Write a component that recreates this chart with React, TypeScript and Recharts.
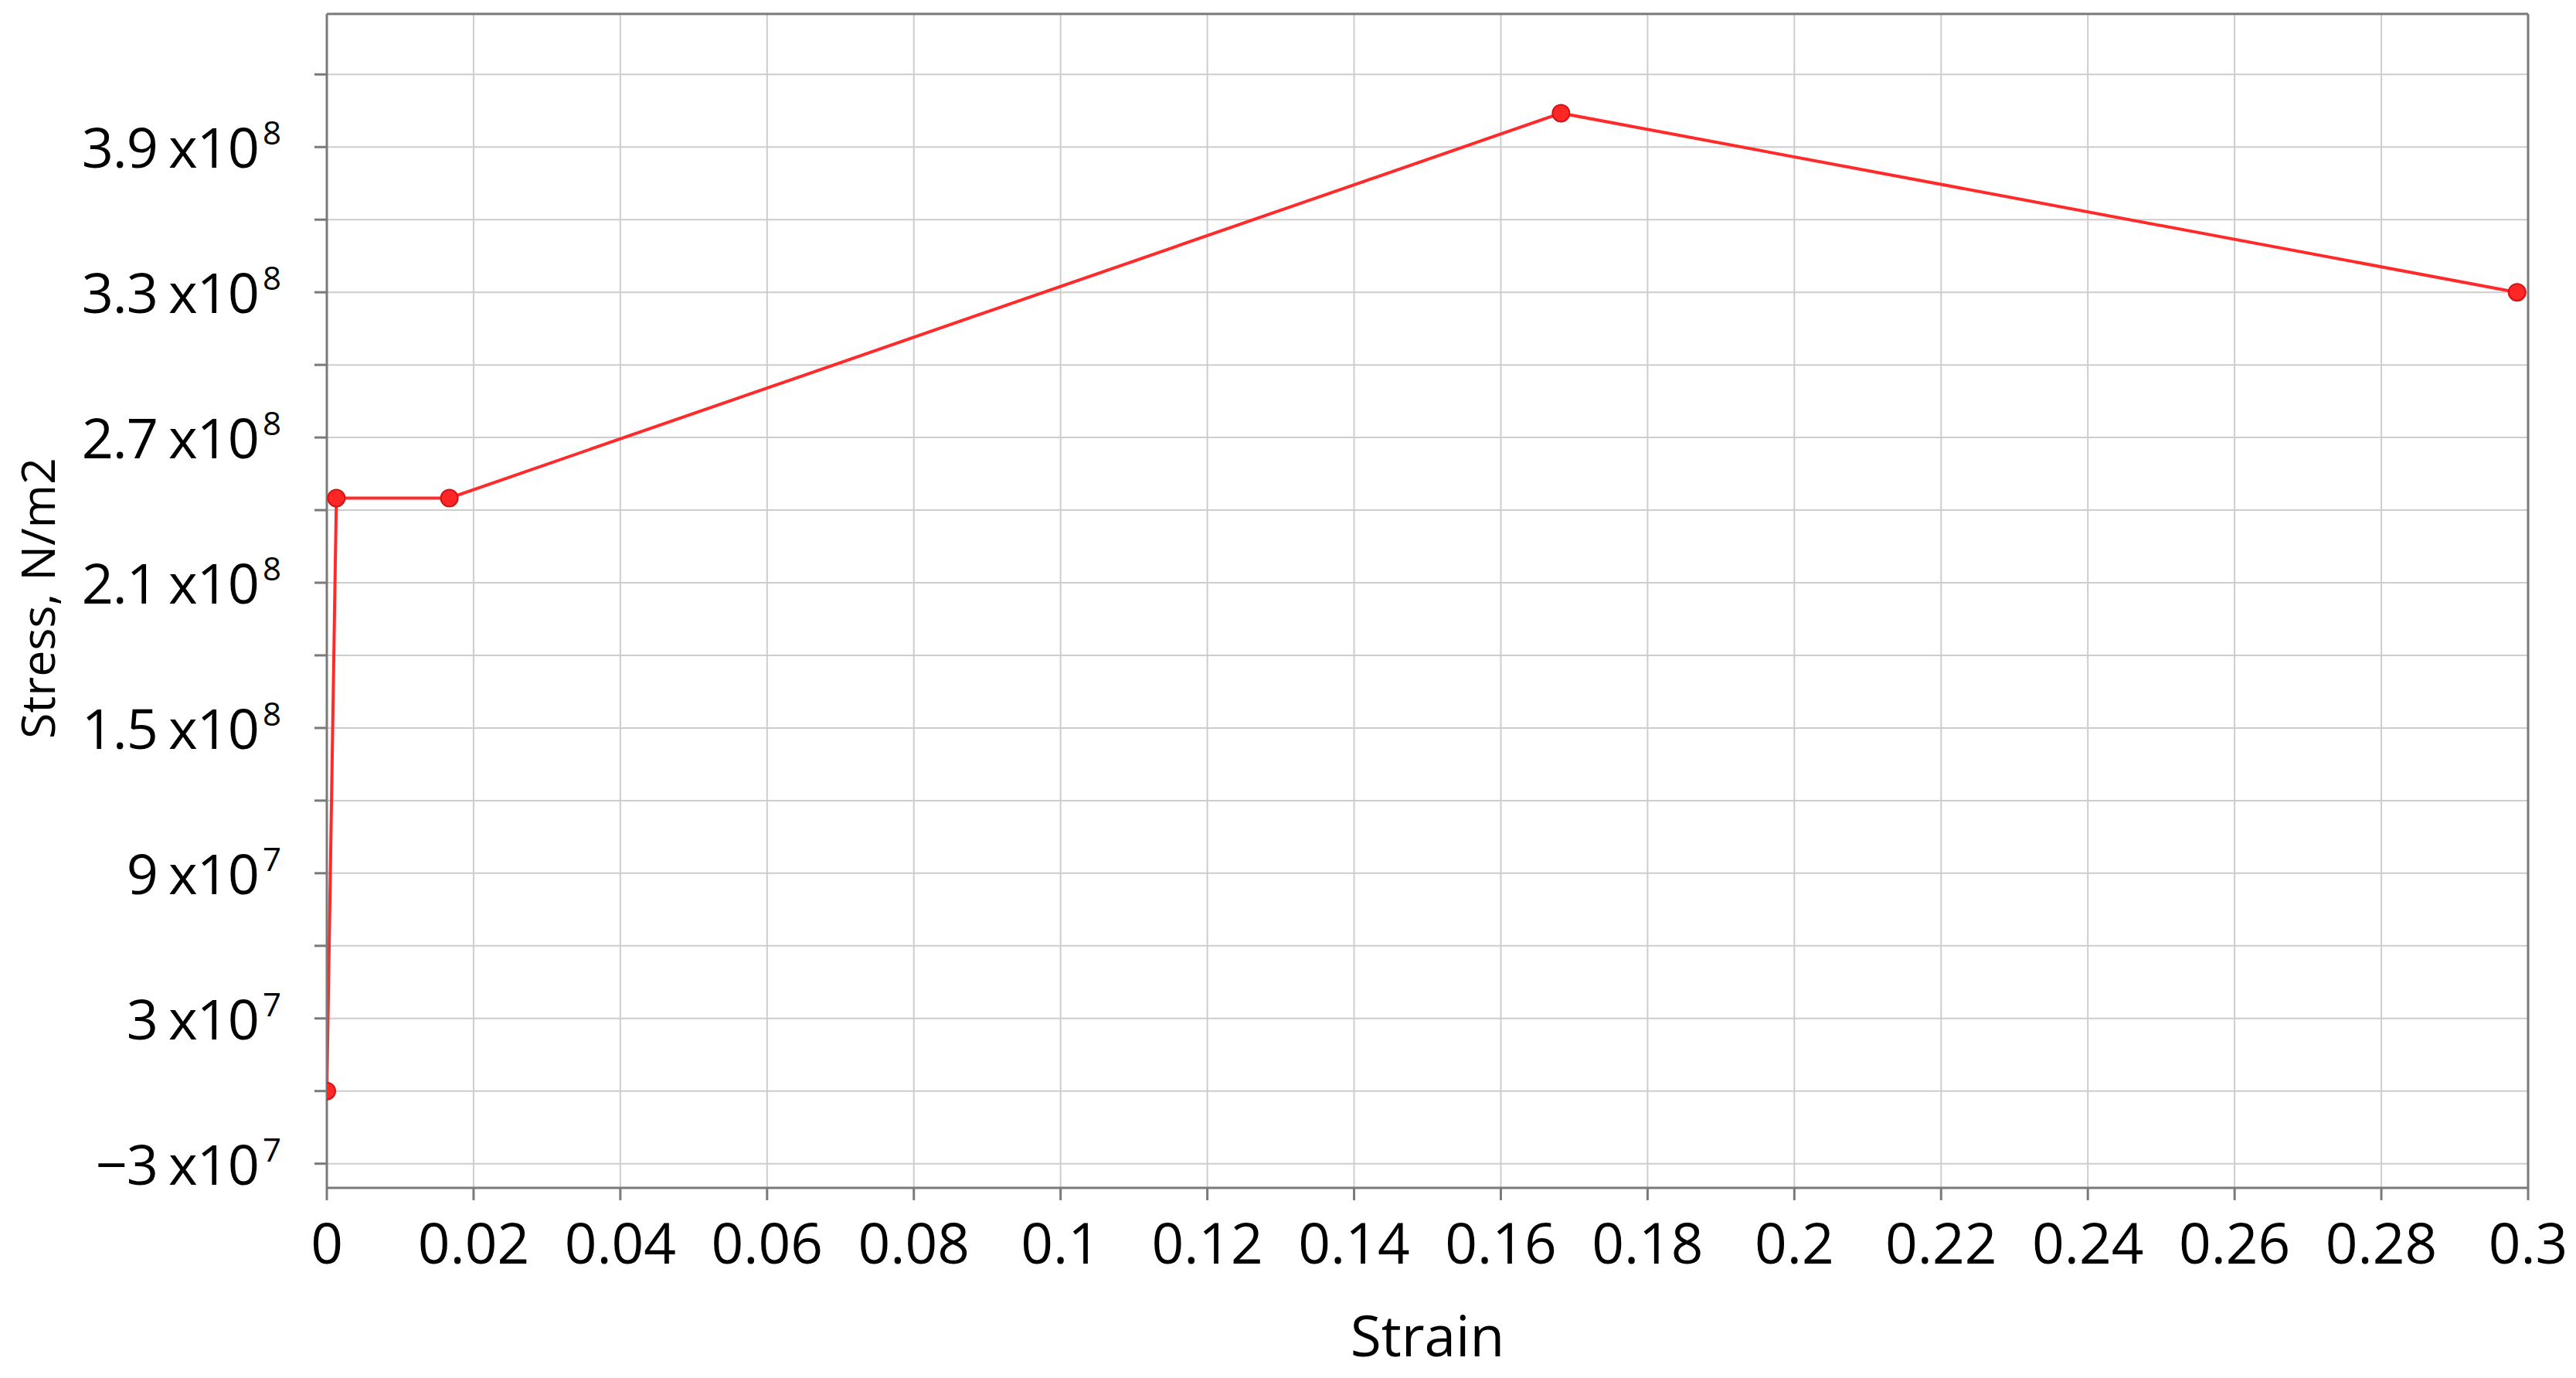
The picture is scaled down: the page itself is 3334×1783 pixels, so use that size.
import React from "react";
import {
  LineChart,
  Line,
  XAxis,
  YAxis,
  CartesianGrid,
  ReferenceLine,
} from "recharts";

// values
const strain = [0, 0.0013, 0.0167, 0.1682, 0.2985];
const stress = [0, 2.45e8, 2.45e8, 4.04e8, 3.3e8];

const xTicks = [
  0, 0.02, 0.04, 0.06, 0.08, 0.1, 0.12, 0.14, 0.16, 0.18, 0.2, 0.22, 0.24,
  0.26, 0.28, 0.3,
];
const yTicks = [
  -3e7, 0, 3e7, 6e7, 9e7, 1.2e8, 1.5e8, 1.8e8, 2.1e8, 2.4e8, 2.7e8, 3e8,
  3.3e8, 3.6e8, 3.9e8, 4.2e8,
];
// only these ticks carry a label
const yLabelled = [-3e7, 3e7, 9e7, 1.5e8, 2.1e8, 2.7e8, 3.3e8, 3.9e8];

const data = strain.map((s, i) => ({ strain: s, stress: stress[i] }));

const FONT = "'Open Sans', 'Noto Sans', sans-serif";
const AXIS = "#7a7a7a";

const fmtX = (v: number) => String(Number(v.toFixed(2)));

const XTick = (props: any) => {
  const { x, y, payload } = props;
  return (
    <text
      x={x}
      y={y + 82}
      textAnchor="middle"
      fontFamily={FONT}
      fontSize={73}
      fill="#000"
    >
      {fmtX(payload.value)}
    </text>
  );
};

const YTick = (props: any) => {
  const { y, payload } = props;
  const v: number = payload.value;
  if (!yLabelled.some((t) => Math.abs(t - v) < 1)) return <g />;
  const exp = Math.floor(Math.log10(Math.abs(v)) + 1e-9);
  const mant = Number((v / Math.pow(10, exp)).toFixed(2));
  const mantStr = (mant < 0 ? "\u2212" : "") + String(Math.abs(mant));
  return (
    <text
      x={363}
      y={y + 27}
      textAnchor="end"
      fontFamily={FONT}
      fontSize={72}
      letterSpacing={-1}
      fill="#000"
    >
      <tspan>{mantStr}</tspan>
      <tspan dx={14}>x10</tspan>
      <tspan dx={5} dy={-30} fontSize={42}>
        {exp}
      </tspan>
    </text>
  );
};

export default function App() {
  return (
    <div style={{ position: "absolute", left: 0, top: 0, background: "#fff" }}>
      <LineChart
        width={3334}
        height={1783}
        data={data}
        margin={{ top: 18, right: 62, bottom: 0, left: 0 }}
      >
        <CartesianGrid stroke="#cdcdcd" strokeWidth={2} />
        <XAxis
          dataKey="strain"
          type="number"
          domain={[0, 0.3]}
          ticks={xTicks}
          allowDataOverflow
          height={246}
          tickSize={16}
          tickMargin={0}
          stroke={AXIS}
          strokeWidth={3}
          tick={(p: any) => <XTick {...p} />}
          label={(p: any) => {
            const vb = p.viewBox;
            return (
              <text
                x={vb.x + vb.width / 2}
                y={1755}
                textAnchor="middle"
                fontFamily={FONT}
                fontSize={73}
                fill="#000"
              >
                Strain
              </text>
            );
          }}
        />
        <YAxis
          dataKey="stress"
          type="number"
          domain={[-4e7, 4.45e8]}
          ticks={yTicks}
          allowDataOverflow
          width={423}
          tickSize={16}
          tickMargin={0}
          stroke={AXIS}
          strokeWidth={3}
          tick={(p: any) => <YTick {...p} />}
          label={() => (
            <text
              x={71}
              y={774}
              transform="rotate(-90, 71, 774)"
              textAnchor="middle"
              fontFamily={FONT}
              fontSize={61}
              fill="#000"
            >
              Stress, N/m2
            </text>
          )}
        />
        <ReferenceLine y={4.45e8} stroke={AXIS} strokeWidth={3} />
        <ReferenceLine x={0.3} stroke={AXIS} strokeWidth={3} />
        <Line
          type="linear"
          dataKey="stress"
          stroke="#ff2a2a"
          strokeWidth={4}
          dot={{ r: 11, fill: "#ff2626", stroke: "#d41414", strokeWidth: 2 }}
          activeDot={false}
          isAnimationActive={false}
        />
      </LineChart>
    </div>
  );
}
